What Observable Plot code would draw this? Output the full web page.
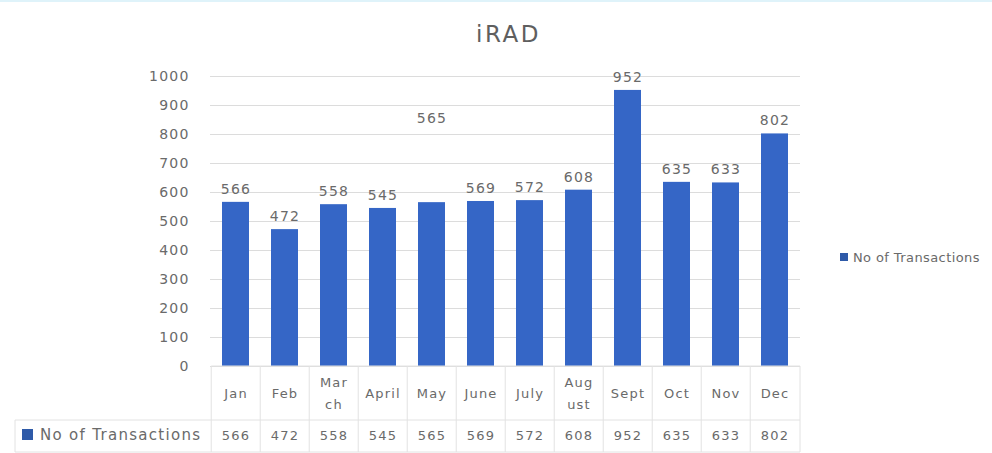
<!DOCTYPE html>
<html>
<head>
<meta charset="utf-8">
<script src="https://cdn.jsdelivr.net/npm/d3@7"></script>
<script src="https://cdn.jsdelivr.net/npm/@observablehq/plot@0.6"></script>
<style>
  html, body { margin: 0; padding: 0; background: #fff; }
  #chart svg { display: block; }
  #chart svg text { letter-spacing: 1.2px; }
</style>
</head>
<body>
<div id="chart"></div>
<script>
const title = "iRAD";
const seriesName = "No of Transactions";
const months = ["Jan", "Feb", "March", "April", "May", "June", "July", "August", "Sept", "Oct", "Nov", "Dec"];
const monthLabels = ["Jan", "Feb", "Mar\nch", "April", "May", "June", "July", "Aug\nust", "Sept", "Oct", "Nov", "Dec"];
const transactions = [566, 472, 558, 545, 565, 569, 572, 608, 952, 635, 633, 802];
const yTicks = [0, 100, 200, 300, 400, 500, 600, 700, 800, 900, 1000];
// the May data label sits high in the original chart
const labelLevel = [566, 472, 558, 545, 812, 569, 572, 608, 952, 635, 633, 802];

const data = months.map((m, i) => ({month: m, label: monthLabels[i], value: transactions[i], labelAt: labelLevel[i]}));

const blue = "#3566c6";
const textColor = "#6a6a6a";
const font = "DejaVu Sans, sans-serif";

const plot = Plot.plot({
  width: 992,
  height: 453,
  marginLeft: 210,
  marginRight: 192,
  marginTop: 76,
  marginBottom: 87,
  style: {fontFamily: font, color: textColor, background: "#fff"},
  x: {domain: months, paddingInner: 0.44, paddingOuter: 0.22, axis: null},
  y: {domain: [0, 1000], axis: null},
  marks: [
    Plot.gridY(yTicks, {stroke: "#dcdcdc", strokeOpacity: 1}),
    Plot.axisY(yTicks, {tickSize: 0, tickPadding: 21, fontSize: 14, fill: textColor, tickFormat: d => String(d)}),
    Plot.barY(data, {x: "month", y: "value", fill: blue}),
    Plot.text(data, {x: "month", y: "labelAt", text: d => String(d.value), dy: -13, fontSize: 14, fill: textColor}),
    Plot.text(data, {x: "month", text: "label", frameAnchor: "bottom", lineAnchor: "middle", dy: 24, lineHeight: 1.7, fontSize: 13, fill: textColor}),
    Plot.text(data, {x: "month", text: d => String(d.value), frameAnchor: "bottom", lineAnchor: "middle", dy: 69, fontSize: 13, fill: textColor}),
    Plot.text([title], {text: d => d, frameAnchor: "top", lineAnchor: "middle", dy: -42, dx: 3, fontSize: 23, fill: "#5f5f5f"})
  ]
});

document.getElementById("chart").appendChild(plot);

// title is spaced wider
d3.select(plot).selectAll("text").filter(function() { return this.textContent === title; })
  .style("letter-spacing", "2.5px");

// table grid lines and legends, positioned with Plot's own x scale
const xs = plot.scale("x");
const svg = d3.select(plot);
const step = xs.step;
const half = step * xs.paddingInner / 2;
const bounds = months.map(m => xs.apply(m) - half).concat([xs.range[1]]);
const lineColor = "#e2e2e2";
const yTop = 366, yMid = 420, yBot = 452;
const g = svg.append("g").attr("stroke", lineColor).attr("stroke-width", 1);
bounds.forEach(b => g.append("line").attr("x1", b).attr("x2", b).attr("y1", yTop).attr("y2", yBot));
g.append("line").attr("x1", bounds[0]).attr("x2", bounds[bounds.length - 1]).attr("y1", yTop).attr("y2", yTop);
g.append("line").attr("x1", 15).attr("x2", bounds[bounds.length - 1]).attr("y1", yMid).attr("y2", yMid);
g.append("line").attr("x1", 15).attr("x2", bounds[bounds.length - 1]).attr("y1", yBot).attr("y2", yBot);
g.append("line").attr("x1", 15).attr("x2", 15).attr("y1", yMid).attr("y2", yBot);

// legend key inside the data table
svg.append("rect").attr("x", 22).attr("y", 429).attr("width", 11).attr("height", 11).attr("fill", "#2e5aa8");
svg.append("text").attr("x", 40).attr("y", 435).attr("dy", "0.35em").attr("text-anchor", "start")
  .style("letter-spacing", "1.3px")
  .attr("font-size", 15).attr("fill", textColor).attr("font-family", font).text(seriesName);

// legend on the right
svg.append("rect").attr("x", 840).attr("y", 253).attr("width", 8).attr("height", 8).attr("fill", "#2e5aa8");
svg.append("text").attr("x", 853).attr("y", 257).attr("dy", "0.35em").attr("text-anchor", "start")
  .style("letter-spacing", "0.4px")
  .attr("font-size", 13).attr("fill", textColor).attr("font-family", font).text(seriesName);

// faint top border of the original screenshot
svg.append("rect").attr("x", 0).attr("y", 0).attr("width", 992).attr("height", 2).attr("fill", "#dff3fa");
</script>
</body>
</html>
